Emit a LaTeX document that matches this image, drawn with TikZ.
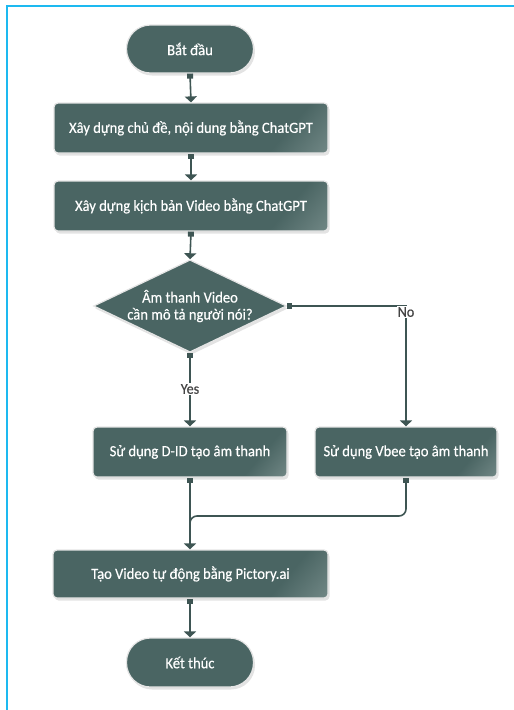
\documentclass[tikz,border=0pt]{standalone}
\usepackage{fontspec}
\setmainfont{Carlito}[FakeStretch=0.94,FakeBold=0.4]
\usetikzlibrary{arrows.meta,shapes.geometric,shadows}
\definecolor{boxc}{HTML}{4A6563}
\definecolor{boxl}{HTML}{9DAEAC}
\definecolor{linec}{HTML}{3E5553}
\definecolor{framec}{HTML}{1DB9F0}
\definecolor{labc}{HTML}{444444}
\pgfdeclarehorizontalshading{sheen}{100bp}{color(0bp)=(boxc); color(72bp)=(boxc); color(100bp)=(boxl)}
\tikzset{
  base/.style={draw=black!10, line width=1.2pt, text=white, font=\fontsize{15.5}{18}\selectfont,
    drop shadow={opacity=0.22, shadow xshift=1.5pt, shadow yshift=-2.5pt}},
  term/.style={base, fill=boxc, rounded corners=24pt, minimum width=127pt, minimum height=48pt},
  procbox/.style={base, shading=sheen, shading angle=-40, rounded corners=4pt, minimum height=50pt, inner sep=2pt},
  decis/.style={base, fill=boxc, diamond, aspect=2.09, inner sep=0pt, minimum width=192pt, minimum height=92pt, align=center},
  conn/.style={draw=linec, line width=1.6pt, {Square[length=5pt,width=6pt]}-{Triangle[length=6pt,width=12pt]}},
  lab/.style={fill=white, text=labc, inner sep=1pt, font=\fontsize{15}{17}\selectfont}
}
\begin{document}
\begin{tikzpicture}[x=1pt,y=-1pt]
\useasboundingbox (0,0) rectangle (514,710);
\draw[framec, line width=2pt] (7,710) -- (7,6) -- (514,6);
\node[term] (start) at (190,49) {Bắt đầu};
\node[procbox, minimum width=274pt] (b1) at (191,128) {Xây dựng chủ đề, nội dung bằng ChatGPT};
\node[procbox, minimum width=274pt] (b2) at (191,206) {Xây dựng kịch bản Video bằng ChatGPT};
\node[decis] (d) at (190,306) {Âm thanh Video\\[-1pt]cần mô tả người nói?};
\node[procbox, minimum width=194pt] (b3) at (190,452) {Sử dụng D-ID tạo âm thanh};
\node[procbox, minimum width=182pt] (b4) at (406,452) {Sử dụng Vbee tạo âm thanh};
\node[procbox, minimum width=275pt, minimum height=48pt] (b5) at (190.5,574) {Tạo Video tự động bằng Pictory.ai};
\node[term, minimum height=49pt] (end) at (190,662.5) {Kết thúc};
\coordinate (j) at (190,516);
\coordinate (j2) at (190,532);
\draw[conn] (start.south) -- (b1.north);
\draw[conn] (b1.south) -- (b2.north);
\draw[conn] (b2.south) -- (d.north);
\draw[conn] (d.east) -| (b4.north);
\draw[conn] (d.south) -- (b3.north -| d.south);
\draw[conn] (b3.south -| d.south) -- (b5.north -| d.south);
\draw[draw=linec, line width=1.6pt, rounded corners=7pt, {Square[length=5pt,width=6pt]}-] (b4.south) |- (j) -- (j2);
\draw[conn] (b5.south -| d.south) -- (end.north);
\node[lab] (no) at (406,312) {No};
\node[lab] (yes) at (190,389) {Yes};
\end{tikzpicture}
\end{document}
